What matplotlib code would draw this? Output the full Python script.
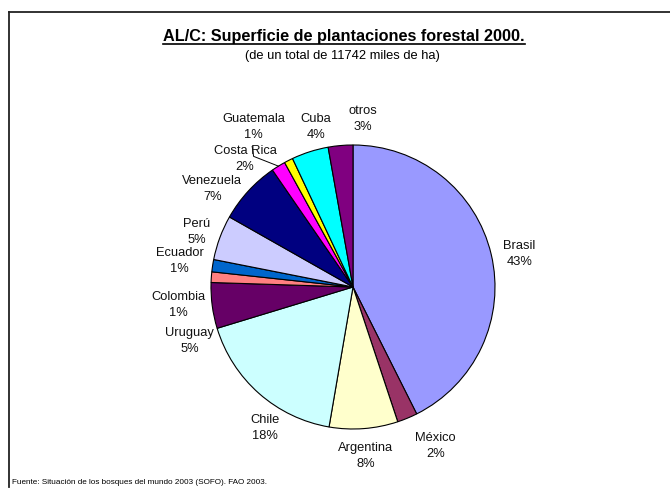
import numpy as np
import matplotlib.pyplot as plt
from matplotlib.lines import Line2D

plt.rcParams['font.family'] = ['Liberation Sans', 'DejaVu Sans']

# plantaciones forestales 2000, miles de ha
paises = ["Brasil", "México", "Argentina", "Chile", "Uruguay", "Colombia",
          "Ecuador", "Perú", "Venezuela", "Costa Rica", "Guatemala", "Cuba", "otros"]
superficie = [5002, 270, 916, 2067, 611, 141, 164, 599, 845, 188, 117, 493, 329]
total = 11742

colores = ["#9999FF", "#993366", "#FFFFCC", "#CCFFFF", "#660066", "#FF8080",
           "#0066CC", "#CCCCFF", "#000080", "#FF00FF", "#FFFF00", "#00FFFF", "#800080"]

# where each label sits, in pie-radius units
pos_etiquetas = [(1.17, 0.23), (0.58, -1.12), (0.09, -1.19), (-0.62, -0.99),
                 (-1.15, -0.38), (-1.23, -0.13), (-1.22, 0.18), (-1.10, 0.39),
                 (-0.99, 0.69), (-0.76, 0.90), (-0.70, 1.13), (-0.26, 1.13),
                 (0.07, 1.18)]

W, H = 670, 490
fig = plt.figure(figsize=(W / 100, H / 100), dpi=100)

# pie centre and radius in pixels
cx, cy, R = 353, 287, 142
half = 230
ax = fig.add_axes([(cx - half) / W, (H - cy - half) / H, 2 * half / W, 2 * half / H])

wedges, _ = ax.pie(superficie, colors=colores, startangle=90, counterclock=False,
                   radius=1, wedgeprops=dict(edgecolor='black', linewidth=0.8))
ax.set_xlim(-half / R, half / R)
ax.set_ylim(-half / R, half / R)
ax.set_aspect('equal')
ax.axis('off')

for w, nombre, v, (lx, ly) in zip(wedges, paises, superficie, pos_etiquetas):
    pct = 100 * v / total
    ax.text(lx, ly, f"{nombre}\n{pct:.0f}%", ha='center', va='center',
            fontsize=9.3, linespacing=1.45, color='#111111')

# leader line for Costa Rica
w = wedges[paises.index("Costa Rica")]
mid = np.deg2rad((w.theta1 + w.theta2) / 2)
ax.plot([-0.71, -0.70, np.cos(mid)], [0.99, 0.92, np.sin(mid)],
        color='black', linewidth=0.7, clip_on=False)

# title, underlined
t = fig.text(344 / W, 1 - 37 / H, "AL/C: Superficie de plantaciones forestal 2000.",
             ha='center', va='center', fontsize=11.7, fontweight='bold')
fig.text(342 / W, 1 - 56 / H, "(de un total de 11742 miles de ha)",
         ha='center', va='center', fontsize=9.3)
fig.canvas.draw()
bb = t.get_window_extent().transformed(fig.transFigure.inverted())
fig.add_artist(Line2D([bb.x0, bb.x1], [bb.y0 + 0.001, bb.y0 + 0.001],
                      color='black', linewidth=1.2))

fig.text(12 / W, 1 - 482 / H,
         "Fuente: Situación de los bosques del mundo 2003 (SOFO). FAO 2003.",
         ha='left', va='center', fontsize=5.9)

# frame lines along the top and left
fig.add_artist(Line2D([9 / W, 1], [1 - 12 / H, 1 - 12 / H], color='#222222', linewidth=1.3))
fig.add_artist(Line2D([9 / W, 9 / W], [1 - 12 / H, 1 - 487 / H], color='#222222', linewidth=1.3))

fig.savefig("out.png", dpi=100)
